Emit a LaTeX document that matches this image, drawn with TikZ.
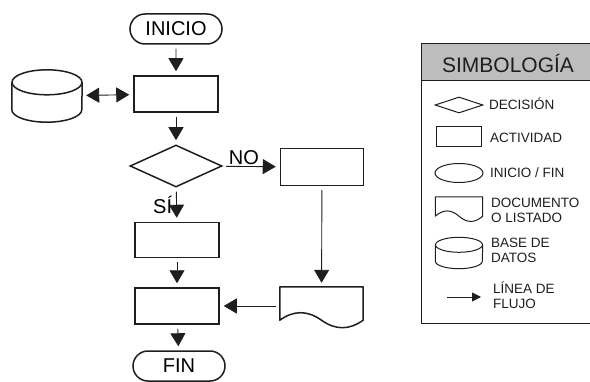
\documentclass[tikz,border=0pt]{standalone}
\usepackage{fontspec}
\setmainfont{Liberation Sans}
\usepackage{tikz}
\usetikzlibrary{arrows.meta, shapes.geometric, shapes.misc}
\definecolor{ink}{HTML}{1E1E1E}
\definecolor{headgray}{HTML}{BDBDBD}
\newcommand{\bigT}{\fontsize{20}{24}\selectfont}
\newcommand{\legT}{\fontsize{13.5}{15}\selectfont}
% cylinder outline round a plain node: node, x radius, y radius, line width
\newcommand{\dbdraw}[4]{%
  \draw[draw=ink, line width=#4] ([yshift=-#3pt]#1.north) ellipse[x radius=#2pt, y radius=#3pt];
  \draw[draw=ink, line width=#4] ([yshift=-#3pt]#1.north west) -- ([yshift=#3pt]#1.south west)
    arc[start angle=180, end angle=360, x radius=#2pt, y radius=#3pt] -- ([yshift=-#3pt]#1.north east);
}
% document outline round a plain node: node, wave dx, wave dy, line width
\newcommand{\docdraw}[4]{%
  \draw[draw=ink, line width=#4, line join=round] (#1.south west)
    .. controls +(#2pt,#3pt) and +(-#2pt,#3pt) .. (#1.south)
    .. controls +(#2pt,-#3pt) and +(-#2pt,-#3pt) .. (#1.south east)
    -- (#1.north east) -- (#1.north west) -- cycle;
}
\tikzset{
  shapeline/.style={draw=ink, line width=1.5pt, inner sep=0pt},
  actbox/.style={shapeline, rectangle, minimum width=84pt, minimum height=36pt},
  termbox/.style={shapeline, rounded rectangle, minimum width=92pt, minimum height=30pt, font=\bigT},
  decbox/.style={shapeline, diamond, minimum width=92pt, minimum height=42pt},
  plainbox/.style={rectangle, inner sep=0pt},
  flow/.style={draw=ink, line width=0.9pt, -{Triangle[length=13pt, width=15pt]},
    shorten <=4pt, shorten >=4pt},
  legtext/.style={anchor=west, font=\legT, align=left, inner sep=0pt, text=ink}
}

\begin{document}
\begin{tikzpicture}[x=1pt, y=1pt]
  \clip (0, 0) rectangle (590, 381);

  % Flowchart (left)
  \node[termbox] (inicio) at (176, 352) {INICIO};
  \node[actbox] (act1) at (176, 287) {};
  \node[plainbox, minimum width=70pt, minimum height=52pt] (bd) at (47, 285) {};
  \dbdraw{bd}{35}{12.5}{1.5pt}
  \node[decbox] (dec) at (176, 215) {};
  \node[actbox, minimum width=83pt, minimum height=37pt] (act2) at (322, 214) {};
  \node[actbox, minimum height=35pt] (act3) at (177, 141) {};
  \node[actbox] (act4) at (177, 75) {};
  \node[plainbox, minimum width=83pt, minimum height=33pt] (doc) at (321.5, 77.5) {};
  \docdraw{doc}{14}{10}{1.5pt}
  \node[termbox] (fin) at (179, 15) {FIN};

  % Connectors
  \draw[flow] (inicio) -- (act1);
  \draw[flow, {Triangle[length=13pt, width=15pt]}-{Triangle[length=13pt, width=15pt]}] (bd) -- (act1);
  \draw[flow] (act1) -- (dec);
  \draw[flow] (dec) -- node[pos=0.38, above, font=\bigT, inner sep=1pt] {NO} (act2);
  \draw[flow] (dec) -- node[left, font=\bigT, inner sep=4pt] {SÍ} (act3);
  \draw[flow] (act2) -- (doc);
  \draw[flow] (act3) -- (act4);
  \draw[flow] (doc.west |- act4) -- (act4);
  \draw[flow] (act4) -- (fin);

  % Legend box (right)
  \draw[draw=ink, line width=1pt, fill=headgray] (421, 337) rectangle (600, 300);
  \draw[draw=ink, line width=1pt] (421, 300) rectangle (600, 58);
  \node[font=\fontsize{21}{24}\selectfont, text=ink] (titulo) at (508, 318) {SIMBOLOGÍA};

  \node[decbox, line width=1pt, minimum width=48pt, minimum height=16pt] (ldec) at (459, 276) {};
  \node[actbox, line width=1pt, minimum width=45pt, minimum height=20pt] (lact) at (459, 244) {};
  \node[shapeline, line width=1pt, ellipse, minimum width=48pt, minimum height=19pt] (lterm) at (459, 208) {};
  \node[plainbox, minimum width=47pt, minimum height=19pt] (ldoc) at (459, 174.5) {};
  \docdraw{ldoc}{8}{7}{1pt}
  \node[plainbox, minimum width=47pt, minimum height=31pt] (lbd) at (459, 128) {};
  \dbdraw{lbd}{23.5}{7.5}{1pt}
  \coordinate (lflowA) at (447, 84);
  \coordinate (lflowB) at (481, 84);
  \draw[draw=ink, line width=0.8pt, -{Triangle[length=9pt, width=9pt]}] (lflowA) -- (lflowB);

  \node[legtext] (tdec) at (489, 277) {DECISIÓN};
  \node[legtext] (tact) at (490, 243) {ACTIVIDAD};
  \node[legtext] (tterm) at (490, 208) {INICIO / FIN};
  \node[legtext] (tdoc) at (491, 171) {DOCUMENTO\\O LISTADO};
  \node[legtext] (tbd) at (491, 131) {BASE DE\\DATOS};
  \node[legtext] (tflow) at (493, 86) {LÍNEA DE\\FLUJO};
\end{tikzpicture}
\end{document}
